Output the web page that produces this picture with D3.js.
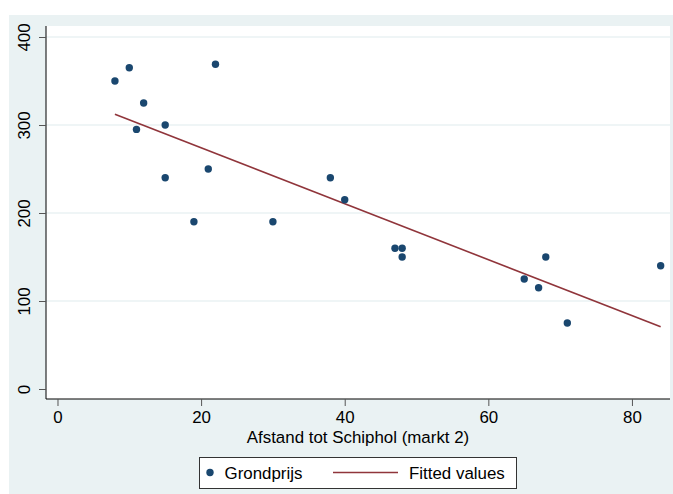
<!DOCTYPE html>
<html>
<head>
<meta charset="utf-8">
<script src="https://cdn.jsdelivr.net/npm/d3@7"></script>
<style>
  body { margin: 0; background: #fff; }
  svg { display: block; font-family: Arial, "Liberation Sans", sans-serif; }
</style>
</head>
<body>
<div id="chart"></div>
<script>
// Afstand tot Schiphol (markt 2) vs grondprijs
var afstand = [8, 10, 11, 12, 15, 15, 19, 21, 22, 30, 38, 40, 47, 48, 48, 65, 67, 68, 71, 84];
var grondprijs = [350, 365, 295, 325, 300, 240, 190, 250, 369, 190, 240, 215, 160, 160, 150, 125, 115, 150, 75, 140];
var xTicks = [0, 20, 40, 60, 80];
var yTicks = [0, 100, 200, 300, 400];

function drawChart() {
    var width = 673, height = 494;
    var plot = {left: 46, right: 670, top: 26, bottom: 399};
    var fs = 16.9;

    var svg = d3.select("#chart").append("svg")
        .attr("width", width)
        .attr("height", height);

    // outer (graph region) background
    svg.append("rect")
        .attr("x", 9).attr("y", 15)
        .attr("width", 664).attr("height", 479)
        .attr("fill", "#eaf2f3");

    svg.append("rect")
        .attr("x", plot.left).attr("y", plot.top)
        .attr("width", plot.right - plot.left).attr("height", plot.bottom - plot.top)
        .attr("fill", "#ffffff");

    var x = d3.scaleLinear().domain([-1.6, 85.3]).range([plot.left, plot.right]);
    var y = d3.scaleLinear().domain([0, 400]).range([389, 37]);

    // gridlines
    svg.append("g").selectAll("line")
        .data(yTicks.filter(function(d) { return d > 0; }))
        .enter().append("line")
        .attr("x1", plot.left).attr("x2", plot.right)
        .attr("y1", function(d) { return y(d); })
        .attr("y2", function(d) { return y(d); })
        .attr("stroke", "#eaf2f3")
        .attr("stroke-width", 1.5);

    // axes
    var xAxis = svg.append("g")
        .attr("transform", "translate(0," + plot.bottom + ")")
        .call(d3.axisBottom(x).tickValues(xTicks).tickSize(7).tickPadding(5).tickFormat(d3.format("d")));
    xAxis.select(".domain").attr("d", "M" + plot.left + ",0H" + plot.right).attr("stroke", "#000");
    xAxis.selectAll(".tick line").attr("stroke", "#555");
    xAxis.selectAll("text").attr("font-size", fs).attr("fill", "#000");

    var yAxis = svg.append("g")
        .attr("transform", "translate(" + plot.left + ",0)")
        .call(d3.axisLeft(y).tickValues(yTicks).tickSize(7).tickPadding(0).tickFormat(d3.format("d")));
    yAxis.select(".domain").attr("d", "M0," + plot.top + "V" + plot.bottom).attr("stroke", "#000");
    yAxis.selectAll(".tick line").attr("stroke", "#555");
    yAxis.selectAll("text")
        .attr("font-size", fs).attr("fill", "#000")
        .attr("x", 0).attr("dy", null)
        .attr("text-anchor", "middle")
        .attr("transform", "translate(-16,0) rotate(-90)");

    // least squares fit
    var mx = d3.mean(afstand), my = d3.mean(grondprijs);
    var sxy = d3.sum(afstand, function(d, i) { return (d - mx) * (grondprijs[i] - my); });
    var sxx = d3.sum(afstand, function(d) { return (d - mx) * (d - mx); });
    var b = sxy / sxx, a = my - b * mx;
    var xs = d3.extent(afstand);

    svg.append("path")
        .datum(xs)
        .attr("d", d3.line().x(function(d) { return x(d); }).y(function(d) { return y(a + b * d); }))
        .attr("stroke", "#90353b")
        .attr("stroke-width", 1.6)
        .attr("fill", "none");

    svg.append("g").selectAll("circle")
        .data(afstand)
        .enter().append("circle")
        .attr("cx", function(d) { return x(d); })
        .attr("cy", function(d, i) { return y(grondprijs[i]); })
        .attr("r", 3.7)
        .attr("fill", "#1a476f");

    svg.append("text")
        .attr("x", (plot.left + plot.right) / 2).attr("y", 443)
        .attr("text-anchor", "middle")
        .attr("font-size", fs)
        .text("Afstand tot Schiphol (markt 2)");

    // legend
    var lg = svg.append("g");
    lg.append("rect")
        .attr("x", 199.5).attr("y", 457.5)
        .attr("width", 317).attr("height", 31)
        .attr("fill", "#fff").attr("stroke", "#333");
    lg.append("circle").attr("cx", 210).attr("cy", 472.5).attr("r", 3.7).attr("fill", "#1a476f");
    lg.append("text").attr("x", 224.5).attr("y", 479).attr("font-size", fs).text("Grondprijs");
    lg.append("line")
        .attr("x1", 333).attr("x2", 398).attr("y1", 472.5).attr("y2", 472.5)
        .attr("stroke", "#90353b").attr("stroke-width", 1.6);
    lg.append("text").attr("x", 409).attr("y", 479).attr("font-size", fs).text("Fitted values");
}

if (document.readyState === "loading") {
    document.addEventListener("DOMContentLoaded", drawChart);
} else {
    drawChart();
}
</script>
</body>
</html>
